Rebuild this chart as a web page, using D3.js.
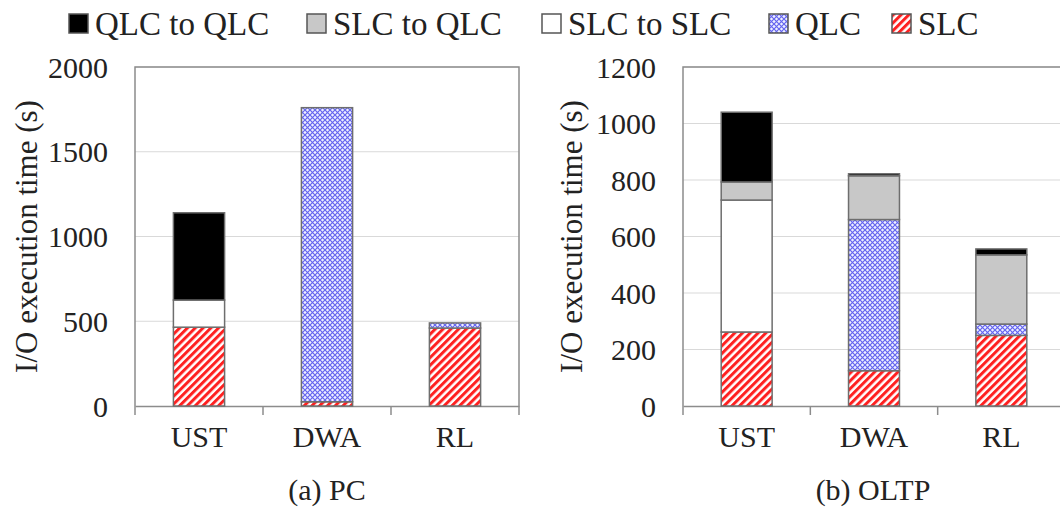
<!DOCTYPE html>
<html>
<head>
<meta charset="utf-8">
<script src="https://cdn.jsdelivr.net/npm/d3@7"></script>
<style>
  body { margin: 0; background: #fff; }
  svg text { font-family: "Times New Roman", "Liberation Serif", Tinos, serif !important; fill: #222; }
</style>
</head>
<body>
<div class="chart"></div>
<script>
// categories and stacked series, bottom to top
var categories = ['UST', 'DWA', 'RL'];
var seriesKeys = ['SLC', 'QLC', 'SLC to SLC', 'SLC to QLC', 'QLC to QLC'];
var legendOrder = ['QLC to QLC', 'SLC to QLC', 'SLC to SLC', 'QLC', 'SLC'];

var pcSLC        = [465, 25, 460];
var pcQLC        = [0, 1735, 30];
var pcSLCtoSLC   = [160, 0, 0];
var pcSLCtoQLC   = [0, 0, 0];
var pcQLCtoQLC   = [515, 0, 0];
var pcTicks      = [0, 500, 1000, 1500, 2000];

var oltpSLC      = [262, 125, 250];
var oltpQLC      = [0, 535, 40];
var oltpSLCtoSLC = [467, 0, 0];
var oltpSLCtoQLC = [64, 155, 245];
var oltpQLCtoQLC = [247, 7, 21];
var oltpTicks    = [0, 200, 400, 600, 800, 1000, 1200];

var W = 1060, H = 515;

var svg = d3.select('div.chart')
    .append('svg')
        .attr('width', W)
        .attr('height', H);

// fills
var defs = svg.append('defs');
var slcPat = defs.append('pattern')
    .attr('id', 'slc')
    .attr('patternUnits', 'userSpaceOnUse')
    .attr('width', 5.5).attr('height', 5.5)
    .attr('patternTransform', 'rotate(45)');
slcPat.append('rect').attr('width', 5.5).attr('height', 5.5).attr('fill', '#fff');
slcPat.append('rect').attr('width', 3).attr('height', 5.5).attr('fill', '#ff2020');

var qlcPat = defs.append('pattern')
    .attr('id', 'qlc')
    .attr('patternUnits', 'userSpaceOnUse')
    .attr('width', 5).attr('height', 5);
qlcPat.append('rect').attr('width', 5).attr('height', 5).attr('fill', '#eef0ff');
qlcPat.append('path').attr('d', 'M0,0L5,5M5,0L0,5').attr('stroke', '#6464f0').attr('stroke-width', 1.2);

var fills = {
    'QLC to QLC': '#000',
    'SLC to QLC': '#c8c8c8',
    'SLC to SLC': '#fff',
    'QLC': 'url(#qlc)',
    'SLC': 'url(#slc)'
};

function rows(slc, qlc, s2s, s2q, q2q) {
    return categories.map((c, i) => ({
        cat: c, 'SLC': slc[i], 'QLC': qlc[i], 'SLC to SLC': s2s[i],
        'SLC to QLC': s2q[i], 'QLC to QLC': q2q[i]
    }));
}

function panel(cfg) {
    var g = svg.append('g');
    var x = d3.scaleBand()
        .domain(categories)
        .range([cfg.left, cfg.right])
        .padding(0);
    var y = d3.scaleLinear()
        .domain([0, d3.max(cfg.ticks)])
        .range([cfg.bottom, cfg.top]);

    // gridlines
    g.append('g')
        .selectAll('line')
        .data(cfg.ticks.slice(1))
        .enter().append('line')
            .attr('x1', cfg.left).attr('x2', cfg.right)
            .attr('y1', (d) => y(d)).attr('y2', (d) => y(d))
            .attr('stroke', '#d9d9d9').attr('stroke-width', 1);

    // frame
    g.append('path')
        .attr('d', 'M' + cfg.left + ',' + cfg.bottom + 'V' + cfg.top + 'H' + cfg.right + 'V' + cfg.bottom)
        .attr('fill', 'none').attr('stroke', '#8c8c8c').attr('stroke-width', 1.5);

    var yAxis = g.append('g')
        .attr('transform', 'translate(' + cfg.left + ',0)')
        .call(d3.axisLeft(y).tickValues(cfg.ticks).tickFormat(d3.format('d')).tickSize(0).tickPadding(27));
    yAxis.attr('font-family', null);
    yAxis.select('.domain').remove();
    yAxis.selectAll('text')
        .style('font-size', '30px')
        .attr('fill', '#222')
        .attr('dy', '0.34em');

    var xAxis = g.append('g')
        .attr('transform', 'translate(0,' + cfg.bottom + ')')
        .call(d3.axisBottom(x).tickSize(0).tickPadding(20));
    xAxis.attr('font-family', null);
    xAxis.select('.domain')
        .attr('stroke', '#8c8c8c').attr('stroke-width', 1.5);
    xAxis.selectAll('text')
        .style('font-size', '30px')
        .attr('fill', '#222');
    // band boundary ticks
    g.append('g')
        .selectAll('line')
        .data(categories.map((c) => x(c)).concat([x(categories[2]) + x.bandwidth()]))
        .enter().append('line')
            .attr('x1', (d) => d).attr('x2', (d) => d)
            .attr('y1', cfg.bottom).attr('y2', cfg.bottom + 9)
            .attr('stroke', '#8c8c8c').attr('stroke-width', 1.5);

    var stack = d3.stack().keys(seriesKeys)(cfg.data);
    var bw = x.bandwidth() * 0.4;
    g.append('g')
        .selectAll('g')
        .data(stack)
        .enter().append('g')
            .attr('fill', (s) => fills[s.key])
        .selectAll('rect')
        .data((s) => s.filter((d) => d[1] - d[0] > 0))
        .enter().append('rect')
            .attr('x', (d) => x(d.data.cat) + (x.bandwidth() - bw) / 2)
            .attr('width', bw)
            .attr('y', (d) => y(d[1]))
            .attr('height', (d) => y(d[0]) - y(d[1]))
            .attr('stroke', '#6e6e6e')
            .attr('stroke-width', 1.5);

    svg.append('text')
        .attr('transform', 'translate(' + cfg.titleX + ',' + ((cfg.top + cfg.bottom) / 2) + ') rotate(-90)')
        .attr('text-anchor', 'middle')
        .attr('dy', '0.34em')
        .style('font-size', '31px')
        .text('I/O execution time (s)');

    svg.append('text')
        .attr('x', cfg.capX)
        .attr('y', 500)
        .attr('text-anchor', 'middle')
        .style('font-size', '30px')
        .text(cfg.caption);
}

panel({
    data: rows(pcSLC, pcQLC, pcSLCtoSLC, pcSLCtoQLC, pcQLCtoQLC),
    ticks: pcTicks, left: 135, right: 519, top: 67, bottom: 406,
    titleX: 26, capX: 327, caption: '(a) PC'
});
panel({
    data: rows(oltpSLC, oltpQLC, oltpSLCtoSLC, oltpSLCtoQLC, oltpQLCtoQLC),
    ticks: oltpTicks, left: 683, right: 1065, top: 67, bottom: 406,
    titleX: 571, capX: 873, caption: '(b) OLTP'
});

// legend
var legendX = [69, 307, 542, 769, 892];
var legend = svg.append('g')
    .selectAll('g')
    .data(legendOrder)
    .enter().append('g')
        .attr('transform', (d, i) => 'translate(' + legendX[i] + ',14)');
legend.append('rect')
    .attr('width', 19).attr('height', 19)
    .attr('fill', (d) => fills[d])
    .attr('stroke', '#555').attr('stroke-width', 1.5);
legend.append('text')
    .attr('x', 26)
    .attr('y', 21)
    .style('font-size', '33px')
    .text((d) => d);
</script>
</body>
</html>
